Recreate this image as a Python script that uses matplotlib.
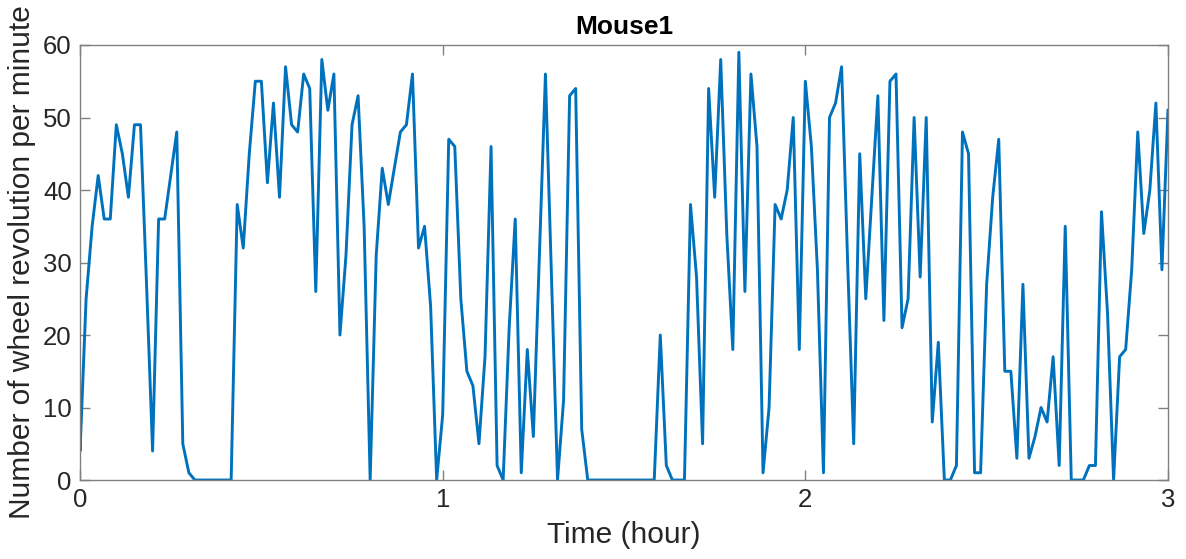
import numpy as np
import matplotlib
matplotlib.use('Agg')
import matplotlib.pyplot as plt

# wheel revolutions per minute, one value per minute (0..180 min)
# the first minute has two readings (7 then 4)
first_reading = 7
counts = [4, 25, 35, 42, 36, 36, 49, 45, 39, 49,
          49, 27, 4, 36, 36, 42, 48, 5, 1, 0,
          0, 0, 0, 0, 0, 0, 38, 32, 45, 55,
          55, 41, 52, 39, 57, 49, 48, 56, 54, 26,
          58, 51, 56, 20, 31, 49, 53, 35, 0, 31,
          43, 38, 43, 48, 49, 56, 32, 35, 24, 0,
          9, 47, 46, 25, 15, 13, 5, 17, 46, 2,
          0, 21, 36, 1, 18, 6, 31, 56, 28, 0,
          11, 53, 54, 7, 0, 0, 0, 0, 0, 0,
          0, 0, 0, 0, 0, 0, 20, 2, 0, 0,
          0, 38, 28, 5, 54, 39, 58, 34, 18, 59,
          26, 56, 46, 1, 10, 38, 36, 40, 50, 18,
          55, 46, 29, 1, 50, 52, 57, 30, 5, 45,
          25, 39, 53, 22, 55, 56, 21, 25, 50, 28,
          50, 8, 19, 0, 0, 2, 48, 45, 1, 1,
          27, 39, 47, 15, 15, 3, 27, 3, 6, 10,
          8, 17, 2, 35, 0, 0, 0, 2, 2, 37,
          23, 0, 17, 18, 29, 48, 34, 40, 52, 29, 51]
minutes = np.arange(len(counts))

x_ticks = [0, 1, 2, 3]
y_ticks = [0, 10, 20, 30, 40, 50, 60]

plt.rcParams['font.family'] = ['Liberation Sans', 'DejaVu Sans']

t_hour = np.concatenate([[0], minutes]) / 60.0
y = np.concatenate([[first_reading], counts])

fig = plt.figure(figsize=(11.86, 5.59), dpi=100)
ax = fig.add_axes([0.0675, 0.1413, 0.9173, 0.7782])
ax.plot(t_hour, y, color='#0072BD', linewidth=2.1)

ax.set_xlim(0, 3)
ax.set_ylim(0, 60)
ax.set_xticks(x_ticks)
ax.set_yticks(y_ticks)
ax.tick_params(direction='in', length=7, width=1, colors='#808080',
               labelcolor='#262626', labelsize=18.5, pad=6)
ax.tick_params(top=True, right=True)
for s in ax.spines.values():
    s.set_color('#808080')
    s.set_linewidth(1)

ax.set_xlabel('Time (hour)', fontsize=21.5, color='#262626', labelpad=6)
ax.set_ylabel('Number of wheel revolution per minute', fontsize=21.5,
              color='#262626', labelpad=5)
ax.set_title('Mouse1', fontsize=19, fontweight='bold', color='black', pad=8)

fig.savefig('out.png', dpi=100)
